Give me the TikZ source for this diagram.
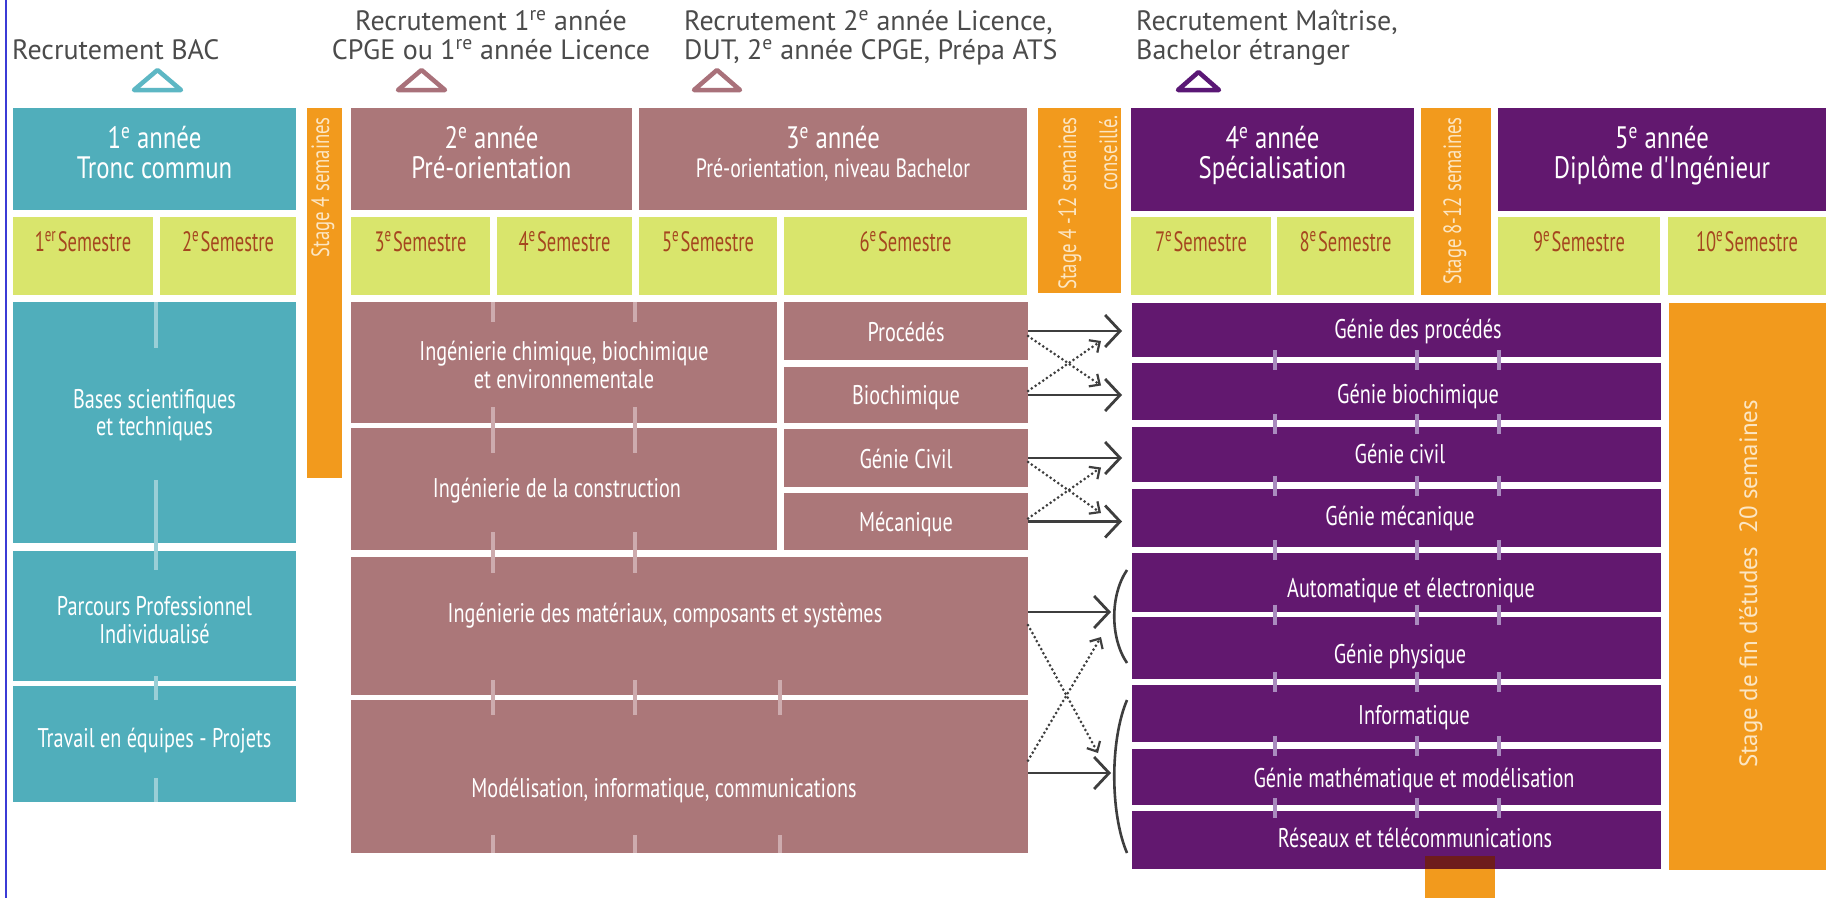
\documentclass[tikz,border=0pt]{standalone}
\usepackage{fontspec}
\setmainfont{PT Sans}
\newfontfamily\condf[FakeStretch=0.75]{PT Sans}
\newfontfamily\titf[FakeStretch=0.8]{PT Sans}
\newfontfamily\semf[FakeStretch=0.66]{PT Sans}
\usetikzlibrary{arrows.meta,calc}
\definecolor{cteal}{HTML}{50AEBB}
\definecolor{cmauve}{HTML}{AB7779}
\definecolor{cpurple}{HTML}{62186F}
\definecolor{clime}{HTML}{D9E56C}
\definecolor{corange}{HTML}{F29A1D}
\definecolor{cdark}{HTML}{6E1C1C}
\definecolor{csem}{HTML}{A5461F}
\definecolor{cgray}{HTML}{4B4B4B}
\definecolor{cotext}{HTML}{FCE6C3}
\definecolor{carrow}{HTML}{3E3E3E}
\definecolor{ctria}{HTML}{5DB7C4}
\definecolor{ctrib}{HTML}{A9717A}
\definecolor{ctric}{HTML}{5A1775}
\definecolor{cblue}{HTML}{3B3BD6}
\definecolor{tickt}{HTML}{9ACFD7}
\definecolor{tickm}{HTML}{CDABAE}
\definecolor{tickp}{HTML}{A98BBE}
\newcommand\mkbox[6]{\node[boxst, fill=#6, minimum width={#4-#2}, minimum height={#5-#3}] (#1) at (#2,#3) {};}
\begin{document}
\begin{tikzpicture}[x=1pt,y=-1pt,
  boxst/.style={draw=none, inner sep=0pt, outer sep=0pt, anchor=north west},
  hdr/.style={text=cgray, font=\fontsize{28}{29}\selectfont, anchor=base west, inner sep=0pt},
  tit/.style={text=white, font=\titf\fontsize{31}{31}\selectfont, anchor=base, inner sep=0pt},
  subt/.style={text=white, font=\condf\fontsize{26.5}{26}\selectfont, anchor=base, inner sep=0pt},
  sem/.style={text=csem, font=\semf\fontsize{28}{28}\selectfont, anchor=base, inner sep=0pt},
  bod/.style={text=white, font=\condf\fontsize{27}{27}\selectfont, anchor=base, inner sep=0pt},
  otx/.style={text=cotext, font=\condf\fontsize{25}{25}\selectfont, rotate=90, anchor=base east, inner sep=0pt},
  tri/.style={line width=4.5pt, line join=round},
  arr/.style={draw=carrow, line width=2.8pt, -{Straight Barb[length=15pt,width=32pt]}},
  dotarr/.style={draw=carrow, line width=3pt, dash pattern=on 0pt off 4.6pt, line cap=round, -{Straight Barb[length=8pt,width=15pt,line width=2.2pt]}},
  brk/.style={draw=carrow, line width=2.6pt},
  tick/.style={line width=4pt}]
\useasboundingbox (0,0) rectangle (1832,898);
\fill[white] (0,0) rectangle (1832,898);
\draw[cblue, line width=2.5pt] (6,0) -- (6,898);

% headers
\node[hdr] (hbac) at (12,59) {Recrutement BAC};
\node[hdr, anchor=base] (hpa) at (491,30) {Recrutement 1\textsuperscript{re} année};
\node[hdr, anchor=base] (hpb) at (491,59) {CPGE ou 1\textsuperscript{re} année Licence};
\node[hdr] (hla) at (684,30) {Recrutement 2\textsuperscript{e} année Licence,};
\node[hdr] (hlb) at (684,59) {DUT, 2\textsuperscript{e} année CPGE, Prépa ATS};
\node[hdr] (hma) at (1136,30) {Recrutement Maîtrise,};
\node[hdr] (hmb) at (1136,59) {Bachelor étranger};

% triangles
\draw[tri, ctria] (134,90) -- (157.5,70) -- (181,90) -- cycle;
\draw[tri, ctrib] (398,90) -- (421.5,70) -- (445,90) -- cycle;
\draw[tri, ctrib] (694,90) -- (717,70) -- (740,90) -- cycle;
\draw[tri, ctric] (1178,90) -- (1198.5,72) -- (1219,90) -- cycle;

% year boxes
\mkbox{ya}{13}{108}{296}{210}{cteal}
\mkbox{stA}{307}{108}{342}{478}{corange}
\mkbox{yb}{351}{108}{632}{210}{cmauve}
\mkbox{yc}{639}{108}{1027}{210}{cmauve}
\mkbox{stB}{1038}{108}{1121}{293}{corange}
\mkbox{yd}{1131}{108}{1414}{211}{cpurple}
\mkbox{stC}{1421}{108}{1491}{295}{corange}
\mkbox{ye}{1498}{108}{1826}{211}{cpurple}

\node[tit] (yat1) at (154.5,148) {1\textsuperscript{e} année};
\node[tit] (yat2) at (154.5,178) {Tronc commun};
\node[tit] (ybt1) at (491.5,148) {2\textsuperscript{e} année};
\node[tit] (ybt2) at (491.5,178) {Pré-orientation};
\node[tit] (yct1) at (833,148) {3\textsuperscript{e} année};
\node[subt] (yct2) at (833,177) {Pré-orientation, niveau Bachelor};
\node[tit] (ydt1) at (1272.5,148) {4\textsuperscript{e} année};
\node[tit] (ydt2) at (1272.5,178) {Spécialisation};
\node[tit] (yet1) at (1662,148) {5\textsuperscript{e} année};
\node[tit] (yet2) at (1662,178) {Diplôme d'Ingénieur};

% semesters
\mkbox{sa}{13}{217}{153}{295}{clime}
\mkbox{sb}{160}{217}{296}{295}{clime}
\mkbox{sc}{351}{217}{490}{295}{clime}
\mkbox{sd}{497}{217}{632}{295}{clime}
\mkbox{se}{639}{217}{777}{295}{clime}
\mkbox{sf}{784}{217}{1027}{295}{clime}
\mkbox{sg}{1131}{217}{1271}{295}{clime}
\mkbox{sh}{1277}{217}{1414}{295}{clime}
\mkbox{si}{1498}{217}{1660}{295}{clime}
\mkbox{sj}{1668}{217}{1826}{295}{clime}
\node[sem] at (83,251) {1\textsuperscript{er}\hspace{1.5pt}Semestre};
\node[sem] at (228,251) {2\textsuperscript{e}\hspace{1.5pt}Semestre};
\node[sem] at (420.5,251) {3\textsuperscript{e}\hspace{1.5pt}Semestre};
\node[sem] at (564.5,251) {4\textsuperscript{e}\hspace{1.5pt}Semestre};
\node[sem] at (708,251) {5\textsuperscript{e}\hspace{1.5pt}Semestre};
\node[sem] at (905.5,251) {6\textsuperscript{e}\hspace{1.5pt}Semestre};
\node[sem] at (1201,251) {7\textsuperscript{e}\hspace{1.5pt}Semestre};
\node[sem] at (1345.5,251) {8\textsuperscript{e}\hspace{1.5pt}Semestre};
\node[sem] at (1579,251) {9\textsuperscript{e}\hspace{1.5pt}Semestre};
\node[sem] at (1747,251) {10\textsuperscript{e}\hspace{1.5pt}Semestre};

% stage labels
\node[otx] (stAt) at (329,117) {Stage 4 semaines};
\node[otx] (stBt1) at (1076,117) {Stage 4 -12 semaines};
\node[otx] (stBt2) at (1117,115) {conseillé.};
\node[otx] (stCt) at (1461,117) {Stage 8-12 semaines};

% teal column
\mkbox{bases}{13}{302}{296}{543}{cteal}
\mkbox{parc}{13}{551}{296}{681}{cteal}
\mkbox{trav}{13}{686}{296}{802}{cteal}
\node[bod] at (154.5,408) {Bases scientifiques};
\node[bod] at (154.5,435) {et techniques};
\node[bod] at (154.5,615) {Parcours Professionnel};
\node[bod] at (154.5,643) {Individualisé};
\node[bod] at (154.5,747) {Travail en équipes - Projets};

% mauve column
\mkbox{chim}{351}{302}{777}{423}{cmauve}
\mkbox{cons}{351}{428}{777}{550}{cmauve}
\mkbox{proc}{784}{302}{1028}{360}{cmauve}
\mkbox{bioc}{784}{367}{1028}{423}{cmauve}
\mkbox{civ}{784}{429}{1028}{487}{cmauve}
\mkbox{meca}{784}{493}{1028}{550}{cmauve}
\mkbox{mat}{351}{557}{1028}{695}{cmauve}
\mkbox{mod}{351}{700}{1028}{853}{cmauve}
\node[bod] at (564,360) {Ingénierie chimique, biochimique};
\node[bod] at (564,388) {et environnementale};
\node[bod] at (557,497) {Ingénierie de la construction};
\node[bod] at (906,341) {Procédés};
\node[bod] at (906,404) {Biochimique};
\node[bod] at (906,468) {Génie Civil};
\node[bod] at (906,531) {Mécanique};
\node[bod] at (665,622) {Ingénierie des matériaux, composants et systèmes};
\node[bod] at (664,797) {Modélisation, informatique, communications};

% purple column
\mkbox{orsm}{1425}{856}{1495}{898}{corange}
\mkbox{ga}{1132}{303}{1661}{357}{cpurple}
\mkbox{gb}{1132}{363}{1661}{420}{cpurple}
\mkbox{gc}{1132}{427}{1661}{482}{cpurple}
\mkbox{gd}{1132}{489}{1661}{547}{cpurple}
\mkbox{ge}{1132}{553}{1661}{612}{cpurple}
\mkbox{gf}{1132}{617}{1661}{679}{cpurple}
\mkbox{gg}{1132}{685}{1661}{742}{cpurple}
\mkbox{gh}{1132}{749}{1661}{805}{cpurple}
\mkbox{gi}{1132}{811}{1661}{869}{cpurple}
\mkbox{dk}{1425}{856}{1495}{869}{cdark}
\node[bod] at (1418,338) {Génie des procédés};
\node[bod] at (1418,403) {Génie biochimique};
\node[bod] at (1400,463) {Génie civil};
\node[bod] at (1400,525) {Génie mécanique};
\node[bod] at (1411,597) {Automatique et électronique};
\node[bod] at (1400,663) {Génie physique};
\node[bod] at (1414,724) {Informatique};
\node[bod] at (1414,787) {Génie mathématique et modélisation};
\node[bod] at (1415,847) {Réseaux et télécommunications};

\mkbox{stf}{1669}{303}{1826}{870}{corange}
\node[otx, font=\fontsize{25}{25}\selectfont, anchor=base] (stft) at (1757,584) {Stage de fin d'études\hspace{0.55em}20 semaines};

% ticks
\foreach \a/\b in {302/348, 480/570, 676/700, 778/802}
  \draw[tick, tickt] (156,\a) -- (156,\b);
\foreach \x in {493,635}
  \foreach \a/\b in {302/322, 407/453, 532/573}
    \draw[tick, tickm] (\x,\a) -- (\x,\b);
\foreach \x in {493,635,780}
  \foreach \a/\b in {680/715, 835/853}
    \draw[tick, tickm] (\x,\a) -- (\x,\b);
\foreach \x in {1275,1417,1499}
  \foreach \g in {360,423.5,485.5,550,614.5,682,745.5,808}
    \draw[tick, tickp] (\x,\g-10) -- (\x,\g+10);

% connectors
\draw[arr] (proc.east) -- ([xshift=-10pt]proc.east -| ga.west);
\draw[arr] (bioc.east) -- ([xshift=-10pt]bioc.east -| gb.west);
\draw[arr] (civ.east) -- ([xshift=-10pt]civ.east -| gc.west);
\draw[arr] (meca.east) -- ([xshift=-10pt]meca.east -| gd.west);
\draw[dotarr] ($(proc.east)+(0,5)$) -- ($(gb.west)+(-31,-6)$);
\draw[dotarr] ($(bioc.east)+(0,-4)$) -- ($(ga.west)+(-31,11)$);
\draw[dotarr] ($(civ.east)+(0,4)$) -- ($(gd.west)+(-31,-5)$);
\draw[dotarr] ($(meca.east)+(0,-3)$) -- ($(gc.west)+(-31,13)$);

\coordinate (bAt) at (1127,570);
\coordinate (bAb) at (1127,663);
\coordinate (bBt) at (1127,700);
\coordinate (bBb) at (1127,853);
\coordinate (mA) at (1111,612);
\coordinate (mB) at (1111,773);
\coordinate (dA) at (1098,753);
\coordinate (dB) at (1101,637);
\draw[brk] (bAt) .. controls (1110,595) and (1110,638) .. (bAb);
\draw[brk] (bBt) .. controls (1110,740) and (1110,813) .. (bBb);
\draw[arr] ($(mat.east)+(0,-14)$) -- (mA);
\draw[arr] ($(mod.east)+(0,-3.5)$) -- (mB);
\draw[dotarr] ($(mat.east)+(0,-1)$) -- (dA);
\draw[dotarr] ($(mod.east)+(0,-16)$) -- (dB);
\end{tikzpicture}
\end{document}
